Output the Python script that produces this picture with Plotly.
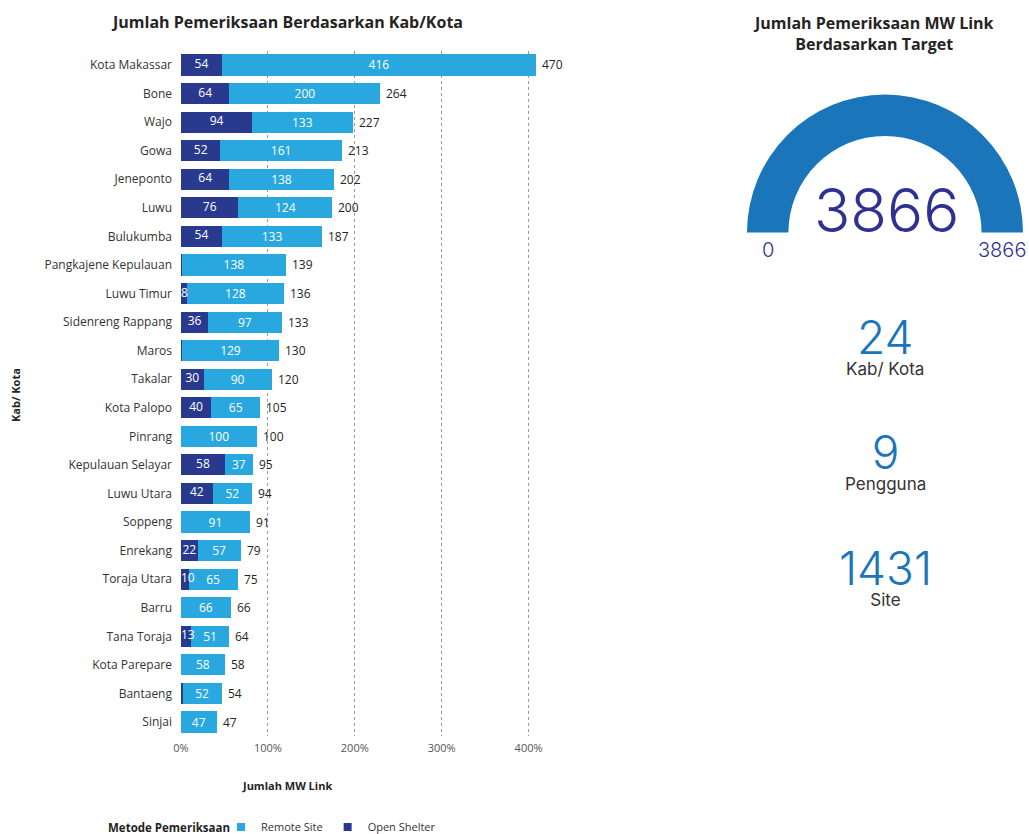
import plotly.graph_objects as go

# ---- data ---------------------------------------------------------------
regions = [
    "Kota Makassar", "Bone", "Wajo", "Gowa", "Jeneponto", "Luwu", "Bulukumba",
    "Pangkajene Kepulauan", "Luwu Timur", "Sidenreng Rappang", "Maros", "Takalar",
    "Kota Palopo", "Pinrang", "Kepulauan Selayar", "Luwu Utara", "Soppeng",
    "Enrekang", "Toraja Utara", "Barru", "Tana Toraja", "Kota Parepare",
    "Bantaeng", "Sinjai",
]
open_shelter = [54, 64, 94, 52, 64, 76, 54, 1, 8, 36, 1, 30,
                40, 0, 58, 42, 0, 22, 10, 0, 13, 0, 2, 0]
remote_site = [416, 200, 133, 161, 138, 124, 133, 138, 128, 97, 129, 90,
               65, 100, 37, 52, 91, 57, 65, 66, 51, 58, 52, 47]
totals = [a + b for a, b in zip(open_shelter, remote_site)]

pct_base = 115          # MW links counted as 100 %
pct_ticks = [0, 100, 200, 300, 400]

gauge_value = 3866
gauge_min = 0
gauge_max = 3866

card_values = ["24", "9", "1431"]
card_labels = ["Kab/ Kota", "Pengguna", "Site"]

# ---- style ----------------------------------------------------------------
W, H = 1029, 834
LIGHT = "#29a8e0"
DARK = "#293a8e"
GAUGE = "#1b75bb"
NAVY = "#2e3192"
CARD = "#1b75bb"
TXT = "#252423"
FONT = "Open Sans"
NUMFONT = "Inter"

X_MAX = 500
plot_left, plot_right = 181, 181 + X_MAX / pct_base * 86.9
plot_top, plot_bottom = 50.7, 736.3
units_per_px = X_MAX / (plot_right - plot_left)


def px(x):
    return x / W


def py(y):
    return 1 - y / H


def seg_text(vals):
    return [str(v) if v >= 5 else "" for v in vals]


fig = go.Figure()

fig.add_trace(go.Bar(
    y=regions, x=open_shelter, orientation="h", name="Open Shelter",
    marker=dict(color=DARK, line=dict(width=0)),
    showlegend=False, hoverinfo="skip",
))
fig.add_trace(go.Bar(
    y=regions, x=remote_site, orientation="h", name="Remote Site",
    marker=dict(color=LIGHT, line=dict(width=0)),
    text=seg_text(remote_site), textposition="inside",
    insidetextanchor="middle", textangle=0,
    insidetextfont=dict(color="white", size=12, family=FONT),
    showlegend=False, hoverinfo="skip",
))

# open-shelter segment labels, drawn above both bar traces;
# labels wider than their segment start at the bar's base instead
os_x, os_pos = [], []
for v in open_shelter:
    label_w = 7 * len(str(v)) + 2
    if v / units_per_px < label_w:
        os_x.append(0)
        os_pos.append("middle right")
    else:
        os_x.append(v / 2)
        os_pos.append("middle center")
fig.add_trace(go.Scatter(
    y=regions, x=os_x, mode="text",
    text=seg_text(open_shelter), textposition=os_pos,
    textfont=dict(color="white", size=12, family=FONT),
    showlegend=False, hoverinfo="skip", cliponaxis=False,
))

# totals to the right of each bar
for r, t in zip(regions, totals):
    fig.add_annotation(x=t, y=r, xref="x", yref="y", text=str(t),
                       showarrow=False, xanchor="left", xshift=4,
                       font=dict(size=12, color=TXT, family=FONT))

# legend entries
fig.add_trace(go.Scatter(x=[None], y=[None], mode="markers", name="Remote Site",
                         marker=dict(symbol="square", size=8, color=LIGHT)))
fig.add_trace(go.Scatter(x=[None], y=[None], mode="markers", name="Open Shelter",
                         marker=dict(symbol="square", size=8, color=DARK)))

# gauge as a half donut
fig.add_trace(go.Pie(
    values=[gauge_value - gauge_min, gauge_max - gauge_value, gauge_max - gauge_min],
    marker=dict(colors=[GAUGE, "#e6e6e6", "rgba(0,0,0,0)"], line=dict(width=0)),
    hole=0.70, rotation=-90, direction="clockwise", sort=False,
    textinfo="none", hoverinfo="skip", showlegend=False,
    domain=dict(x=[px(747), px(1023)], y=[py(370.6), py(94.6)]),
))

fig.update_layout(
    width=W, height=H, autosize=False,
    margin=dict(l=0, r=0, t=0, b=0, autoexpand=False),
    paper_bgcolor="white", plot_bgcolor="white",
    barmode="stack", bargap=0.26,
    font=dict(family=FONT, color=TXT),
    uniformtext=dict(minsize=12, mode="show"),
    xaxis=dict(
        domain=[px(plot_left), px(plot_right)],
        range=[0, X_MAX], fixedrange=True, automargin=False,
        tickvals=[p * pct_base / 100 for p in pct_ticks],
        ticktext=[f"{p}%" for p in pct_ticks],
        showgrid=True, gridcolor="#9a9a9a", griddash="dot", gridwidth=1,
        zeroline=False, showline=False, ticks="",
        tickfont=dict(size=11, color="#555555", family=FONT),
        ticklabelstandoff=4,
    ),
    yaxis=dict(
        domain=[py(plot_bottom), py(plot_top)],
        range=[len(regions) - 0.5, -0.5], autorange=False,
        type="category", fixedrange=True, automargin=False,
        showgrid=False, zeroline=False, showline=False, ticks="",
        tickfont=dict(size=12, color="#333333", family=FONT),
        ticklabelstandoff=8,
    ),
    legend=dict(
        orientation="h", traceorder="normal",
        x=px(221), xanchor="left", y=py(827), yanchor="middle",
        font=dict(size=11, color="#333333"),
        itemwidth=30, tracegroupgap=0, bgcolor="rgba(0,0,0,0)",
    ),
)

annots = [
    dict(text="<b>Jumlah Pemeriksaan Berdasarkan Kab/Kota</b>", x=px(287), y=py(22),
         font=dict(size=16, color=TXT)),
    dict(text="<b>Jumlah MW Link</b>", x=px(287), y=py(785),
         font=dict(size=11, color=TXT)),
    dict(text="<b>Kab/ Kota</b>", x=px(16), y=py(395), textangle=-90,
         font=dict(size=11, color=TXT)),
    dict(text="<b>Metode Pemeriksaan</b>", x=px(169), y=py(827),
         font=dict(size=11.5, color=TXT)),
    dict(text="<b>Jumlah Pemeriksaan MW Link<br>Berdasarkan Target</b>",
         x=px(873), y=py(34), font=dict(size=16, color=TXT)),
    dict(text=str(gauge_value), x=px(886), y=py(210),
         font=dict(size=60, color=NAVY, family=NUMFONT, weight=300)),
    dict(text=str(gauge_min), x=px(768), y=py(250),
         font=dict(size=20, color=NAVY, family=NUMFONT, weight=300)),
    dict(text=str(gauge_max), x=px(1002), y=py(250),
         font=dict(size=20, color=NAVY, family=NUMFONT, weight=300)),
]
# value cards: big number with its caption on the line below
for val, lab, yc in zip(card_values, card_labels, [344, 459, 575]):
    annots.append(dict(
        text=(f"<span style='font-size:46px;color:{CARD};font-weight:300'>{val}</span>"
              f"<br><span style='font-size:17px'>{lab}</span>"),
        x=px(885), y=py(yc),
        font=dict(size=16, color="#333333", family=NUMFONT)))
for a in annots:
    fig.add_annotation(xref="paper", yref="paper", showarrow=False,
                       xanchor="center", yanchor="middle", **a)

fig.write_html("out.html")
